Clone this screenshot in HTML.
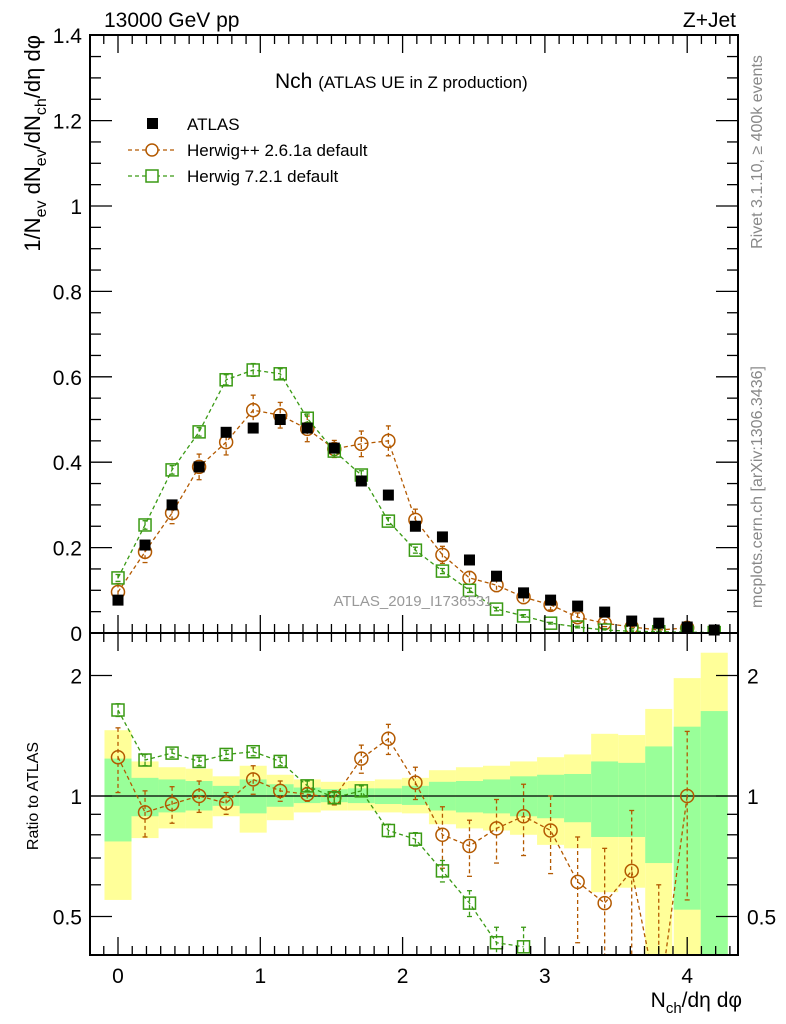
<!DOCTYPE html>
<html><head><meta charset="utf-8"><style>
html,body{margin:0;padding:0;background:#fff;overflow:hidden;width:786px;height:1024px;}
svg{display:block;}
svg text{font-family:"Liberation Sans",sans-serif;}
</style></head><body>
<svg id="c" width="786" height="1024" xmlns="http://www.w3.org/2000/svg"></svg>
<script>
// ---- data ----
const xCenters=[0,0.19,0.38,0.57,0.76,0.95,1.14,1.33,1.52,1.71,1.9,2.09,2.28,2.47,2.66,2.85,3.04,3.23,3.42,3.61,3.8,4.0,4.19];
const atlasVals=[0.077,0.206,0.30,0.389,0.47,0.48,0.50,0.48,0.433,0.356,0.323,0.25,0.225,0.171,0.133,0.094,0.077,0.063,0.049,0.028,0.023,0.014,0.007];
const hppVals=[0.096,0.19,0.281,0.389,0.447,0.522,0.51,0.478,0.431,0.443,0.45,0.265,0.183,0.129,0.112,0.084,0.066,0.037,0.023,0.014,0.007,0.012,null];
const hppErr=[0.02,0.025,0.025,0.03,0.03,0.035,0.03,0.03,0.02,0.03,0.035,0.025,0.02,0.015,0.015,0.015,0.012,0.01,0.008,0.006,0.005,0.005,null];
const h7Vals=[0.129,0.253,0.382,0.471,0.593,0.616,0.607,0.503,0.426,0.37,0.262,0.194,0.145,0.10,0.056,0.04,0.023,0.014,0.007,0.004,0.003,0.002,0.001];
const h7Err=[0.008,0.01,0.01,0.01,0.012,0.015,0.012,0.01,0.01,0.01,0.008,0.007,0.006,0.005,0.004,0.003,0.002,0.002,0.001,0.001,0.001,0.001,0.001];
const hppRatio=[1.25,0.91,0.955,1.0,0.96,1.10,1.03,1.01,0.99,1.24,1.39,1.08,0.80,0.75,0.83,0.89,0.82,0.61,0.54,0.65,0.30,1.0,null];
const hppRatioErr=[0.23,0.12,0.1,0.09,0.06,0.09,0.06,0.04,0.04,0.1,0.12,0.1,0.14,0.12,0.15,0.18,0.18,0.18,0.2,0.27,0.3,0.45,null];
const h7Ratio=[1.64,1.23,1.28,1.22,1.27,1.29,1.22,1.06,0.99,1.03,0.82,0.78,0.65,0.54,0.43,0.42,null,null,null,null,null,null,null];
const h7RatioErr=[0.06,0.04,0.03,0.03,0.03,0.03,0.03,0.03,0.03,0.03,0.03,0.03,0.04,0.04,0.04,0.05,null,null,null,null,null,null,null];
const yellowUp=[1.46,1.22,1.18,1.17,1.12,1.19,1.13,1.10,1.085,1.09,1.10,1.11,1.16,1.18,1.19,1.22,1.25,1.27,1.43,1.42,1.65,1.97,2.28];
const yellowDn=[0.55,0.785,0.83,0.83,0.89,0.81,0.87,0.91,0.92,0.92,0.91,0.905,0.85,0.83,0.82,0.80,0.755,0.74,0.575,0.59,0.3,0.3,0.3];
const greenUp=[1.24,1.11,1.10,1.09,1.06,1.10,1.07,1.05,1.04,1.045,1.045,1.06,1.085,1.09,1.10,1.12,1.13,1.135,1.22,1.21,1.33,1.49,1.63];
const greenDn=[0.77,0.89,0.91,0.92,0.945,0.905,0.94,0.96,0.965,0.96,0.955,0.95,0.92,0.91,0.905,0.89,0.88,0.86,0.79,0.79,0.68,0.52,0.3];
const mainYTicks=["0","0.2","0.4","0.6","0.8","1","1.2","1.4"];
const xTickLabels=["0","1","2","3","4"];
const binW=0.19;

// ---- axes ----
const L=90,R=738,T=35,MB=633,RB=955;
const X=v=>118+(v)*142.3;
const Y=v=>MB-v*427;
const RY=r=>796-Math.log2(r)*120.5;
const NS="http://www.w3.org/2000/svg";
const svg=document.getElementById('c');
function el(tag,attrs,parent){const e=document.createElementNS(NS,tag);for(const k in attrs)e.setAttribute(k,attrs[k]);(parent||svg).appendChild(e);return e;}
function txt(s,x,y,size,anchor,fill,parent){const t=el('text',{x:x,y:y,'font-size':size,'text-anchor':anchor||'start',fill:fill||'#000'},parent);t.textContent=s;return t;}
const clipR=el('clipPath',{id:'cr'});el('rect',{x:L,y:MB,width:R-L,height:RB-MB},clipR);
const clipM=el('clipPath',{id:'cm'});el('rect',{x:L,y:T,width:R-L,height:MB-T},clipM);

// ratio bands
const bands=el('g',{'clip-path':'url(#cr)'});


xCenters.forEach((x,i)=>{
  const x0=X(x-binW/2),x1=X(x+binW/2);
  const yb=el('rect',{x:x0,y:RY(yellowUp[i]),width:x1-x0,height:RY(yellowDn[i])-RY(yellowUp[i]),fill:'#ffff99'},bands);
  
  
  const gb=el('rect',{x:x0,y:RY(greenUp[i]),width:x1-x0,height:RY(greenDn[i])-RY(greenUp[i]),fill:'#99ff99'},bands);
  
  
});
el('line',{x1:L,x2:R,y1:RY(1),y2:RY(1),stroke:'#000','stroke-width':1.2});

function series(vals,errs,yf,color,marker,clip,name){
  const g=el('g',{'clip-path':clip});
  
  
  let pts=[];
  vals.forEach((v,i)=>{if(v!=null)pts.push(X(xCenters[i])+','+yf(v));});
  el('polyline',{points:pts.join(' '),fill:'none',stroke:color,'stroke-width':1.3,'stroke-dasharray':'4,3'},g);
  vals.forEach((v,i)=>{
    if(v==null)return;
    const cx=X(xCenters[i]),cy=yf(v);
    if(errs&&errs[i]){
      const yt=yf(v+errs[i]),ybm=yf(Math.max(v-errs[i],0.01));
      el('line',{x1:cx,x2:cx,y1:yt,y2:ybm,stroke:color,'stroke-width':1.3,'stroke-dasharray':'4,3'},g);
      el('line',{x1:cx-2.5,x2:cx+2.5,y1:yt,y2:yt,stroke:color,'stroke-width':1.3},g);
      el('line',{x1:cx-2.5,x2:cx+2.5,y1:ybm,y2:ybm,stroke:color,'stroke-width':1.3},g);
    }
    let m;
    if(marker==='circle')m=el('circle',{cx:cx,cy:cy,r:6.5,fill:'none',stroke:color,'stroke-width':1.5},g);
    else m=el('rect',{x:cx-6,y:cy-6,width:12,height:12,fill:'none',stroke:color,'stroke-width':1.5},g);
    
    
  });
}
series(hppRatio,hppRatioErr,RY,'#b35900','circle','url(#cr)','herwigpp-ratio');
series(h7Ratio,h7RatioErr,RY,'#3a9a14','square','url(#cr)','herwig7-ratio');

// main panel
series(hppVals,hppErr,Y,'#b35900','circle','url(#cm)','herwigpp-series');
series(h7Vals,h7Err,Y,'#3a9a14','square','url(#cm)','herwig7-series');
const ag=el('g',{});


atlasVals.forEach((v,i)=>{
  const r=el('rect',{x:X(xCenters[i])-5.5,y:Y(v)-5.5,width:11,height:11,fill:'#000'},ag);
  
  
});

// frames
el('rect',{x:L,y:T,width:R-L,height:MB-T,fill:'none',stroke:'#000','stroke-width':2});
el('rect',{x:L,y:MB,width:R-L,height:RB-MB,fill:'none',stroke:'#000','stroke-width':2});
// x ticks
const tk=el('g',{stroke:'#000','stroke-width':1.3});
for(let k=-1;k<=43;k++){const v=k/10;const x=X(v);if(x<L+1||x>R-1)continue;const maj=k%10===0;const len=maj?18:9;
  el('line',{x1:x,x2:x,y1:T,y2:T+len},tk);el('line',{x1:x,x2:x,y1:MB,y2:MB-len},tk);
  el('line',{x1:x,x2:x,y1:MB,y2:MB+len},tk);el('line',{x1:x,x2:x,y1:RB,y2:RB-len},tk);}
// main y ticks
for(let k=0;k<=28;k++){const y=Y(k*0.05);const maj=k%4===0;const len=maj?22:11;
  el('line',{x1:L,x2:L+len,y1:y,y2:y},tk);el('line',{x1:R,x2:R-len,y1:y,y2:y},tk);}
mainYTicks.forEach((s,i)=>txt(s,82,Y(i*0.2)+8,21,'end'));
// ratio y ticks (log)
[0.4,0.5,0.6,0.7,0.8,0.9,1,2].forEach(r=>{const y=RY(r);const maj=(r===0.5||r===1||r===2);const len=maj?22:11;
  el('line',{x1:L,x2:L+len,y1:y,y2:y},tk);el('line',{x1:R,x2:R-len,y1:y,y2:y},tk);});
[[2,'2'],[1,'1'],[0.5,'0.5']].forEach(([r,s])=>{txt(s,82,RY(r)+8,21,'end');txt(s,747,RY(r)+8,21,'start');});
xTickLabels.forEach((s,i)=>txt(s,X(i),983,21,'middle'));

// texts
txt('13000 GeV pp',104,27,21);
txt('Z+Jet',736,27,21,'end');
const tt=txt('Nch ',275,88,21);
const ts=el('tspan',{'font-size':17},tt);ts.textContent='(ATLAS UE in Z production)';
el('rect',{x:147,y:118,width:11,height:11,fill:'#000'});
txt('ATLAS',187,130,17);
el('line',{x1:128,x2:174,y1:150,y2:150,stroke:'#b35900','stroke-width':1.3,'stroke-dasharray':'4,3'});
el('circle',{cx:152,cy:150,r:6,fill:'#fff',stroke:'#b35900','stroke-width':1.5});
txt('Herwig++ 2.6.1a default',187,156,17);
el('line',{x1:128,x2:174,y1:176,y2:176,stroke:'#3a9a14','stroke-width':1.3,'stroke-dasharray':'4,3'});
el('rect',{x:146,y:170,width:12,height:12,fill:'#fff',stroke:'#3a9a14','stroke-width':1.5});
txt('Herwig 7.2.1 default',187,182,17);
txt('ATLAS_2019_I1736531',413,606,15,'middle','#999');
let t1=txt('Rivet 3.1.10, \u2265 400k events',0,0,16,'middle','#888');t1.setAttribute('transform','translate(762,152) rotate(-90)');
let t2=txt('mcplots.cern.ch [arXiv:1306.3436]',0,0,16,'middle','#888');t2.setAttribute('transform','translate(762,487) rotate(-90)');
// y label
const yl=el('text',{'font-size':22,'text-anchor':'end',transform:'translate(40,35) rotate(-90)'});


yl.innerHTML='1/N<tspan font-size="16" dy="6">ev</tspan><tspan dy="-6"> dN</tspan><tspan font-size="16" dy="6">ev</tspan><tspan dy="-6">/dN</tspan><tspan font-size="16" dy="6">ch</tspan><tspan dy="-6">/d\u03b7 d\u03c6</tspan>';
const rl=txt('Ratio to ATLAS',0,0,16,'middle');rl.setAttribute('transform','translate(38,796) rotate(-90)');
const xl=el('text',{x:742,y:1007,'font-size':21,'text-anchor':'end'});


xl.innerHTML='N<tspan font-size="15" dy="6">ch</tspan><tspan dy="-6">/d\u03b7 d\u03c6</tspan>';
</script>
</body></html>
